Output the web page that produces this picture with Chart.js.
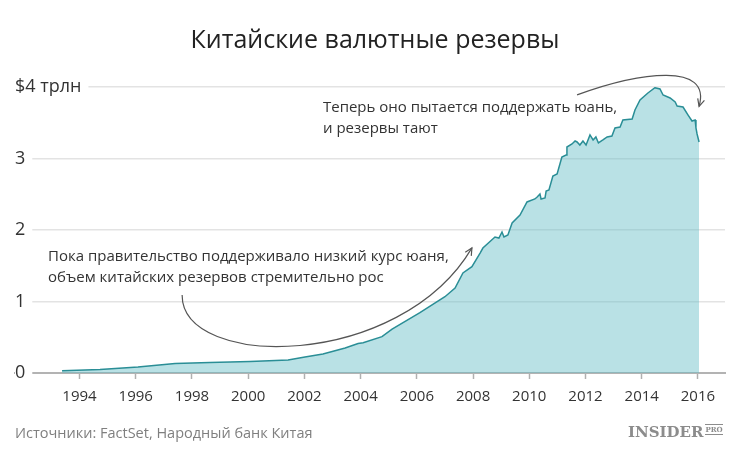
<!DOCTYPE html>
<html lang="ru">
<head>
<meta charset="utf-8">
<title>Китайские валютные резервы</title>
<script src="https://cdn.jsdelivr.net/npm/chart.js@4.4.1/dist/chart.umd.min.js"></script>
<style>
    html, body { margin: 0; padding: 0; background: #fff; }
    #wrap { position: relative; width: 750px; height: 449px; overflow: hidden; font-family: "Open Sans", sans-serif; }
    #chart { position: absolute; left: 0; top: 0; }
    #title { position: absolute; left: 0; width: 750px; top: 21px; text-align: center; font-size: 25px; color: #222; }
    #source { position: absolute; left: 15px; top: 423px; font-size: 14.5px; color: #7f7f7f; }
    #logo { position: absolute; left: 628px; top: 423px; font-family: "DejaVu Serif", "Liberation Serif", serif; font-weight: bold; font-size: 15px; color: #8c8c8c; }
    #logo span { font-size: 7px; border-top: 1px solid #8c8c8c; border-bottom: 1px solid #8c8c8c; vertical-align: 5px; margin-left: 2px; line-height: 8px; }
</style>
</head>
<body>
<div id="wrap">
    <canvas id="chart" width="750" height="449"></canvas>
    <div id="title">Китайские валютные резервы</div>
    <div id="source">Источники: FactSet, Народный банк Китая</div>
    <div id="logo">INSIDER<span>PRO</span></div>
</div>
<script>
// Chinese FX reserves, $ trillion
const years = [
    1993.38, 1994.73, 1996.08, 1997.40, 1998.64, 2000.07, 2001.42, 2002.02, 2002.66, 2003.45,
    2003.91, 2004.09, 2004.76, 2005.12, 2006.11, 2007.00, 2007.36, 2007.64, 2007.96, 2008.25,
    2008.35, 2008.78, 2008.92, 2009.03, 2009.10, 2009.24, 2009.39, 2009.67, 2009.92, 2010.20,
    2010.28, 2010.38, 2010.42, 2010.56, 2010.60, 2010.70, 2010.84, 2010.99, 2011.16, 2011.31,
    2011.34, 2011.52, 2011.63, 2011.70, 2011.80, 2011.91, 2012.02, 2012.16, 2012.27, 2012.37,
    2012.46, 2012.62, 2012.77, 2012.94, 2013.05, 2013.23, 2013.33, 2013.66, 2013.76, 2013.94,
    2014.22, 2014.47, 2014.65, 2014.76, 2015.01, 2015.19, 2015.26, 2015.47, 2015.65, 2015.79,
    2015.90, 2015.93, 2015.97, 2016.04
];
const reserves = [
    0.032, 0.049, 0.084, 0.133, 0.147, 0.161, 0.182, 0.224, 0.266, 0.350,
    0.413, 0.424, 0.508, 0.615, 0.843, 1.067, 1.189, 1.399, 1.487, 1.678,
    1.748, 1.902, 1.888, 1.972, 1.902, 1.930, 2.098, 2.210, 2.392, 2.434,
    2.462, 2.503, 2.434, 2.448, 2.545, 2.559, 2.755, 2.783, 3.021, 3.049,
    3.161, 3.203, 3.245, 3.231, 3.189, 3.245, 3.189, 3.329, 3.259, 3.301,
    3.217, 3.259, 3.301, 3.315, 3.427, 3.441, 3.538, 3.552, 3.678, 3.818,
    3.916, 3.990, 3.972, 3.888, 3.846, 3.790, 3.734, 3.720, 3.608, 3.524,
    3.538, 3.427, 3.343, 3.231
];
const xTicks = [1994, 1996, 1998, 2000, 2002, 2004, 2006, 2008, 2010, 2012, 2014, 2016];
const yTicks = [0, 1, 2, 3, 4];

const noteRise = ['Пока правительство поддерживало низкий курс юаня,', 'объем китайских резервов стремительно рос'];
const noteFall = ['Теперь оно пытается поддержать юань,', 'и резервы тают'];

// annotations in data space: text anchor and bezier arrow [start, c1, c2, end]
const notes = [
    { lines: noteRise, at: [1992.88, 1.62], arrow: [[1997.65, 1.09], [1997.65, 0.04], [2005.40, 0.04], [2007.96, 1.75]] },
    { lines: noteFall, at: [2002.66, 3.71], arrow: [[2011.70, 3.89], [2013.94, 4.21], [2016.50, 4.35], [2016.04, 3.73]] }
];

const annotations = {
    id: 'annotations',
    afterDatasetsDraw(chart) {
        const ctx = chart.ctx;
        const xs = chart.scales.x, ys = chart.scales.y;
        const px = p => [xs.getPixelForValue(p[0]), ys.getPixelForValue(p[1])];
        ctx.save();
        notes.forEach(n => {
            const [tx, ty] = px(n.at);
            ctx.fillStyle = '#333';
            ctx.font = '15px "Open Sans", sans-serif';
            ctx.textBaseline = 'middle';
            ctx.textAlign = 'left';
            n.lines.forEach((l, i) => ctx.fillText(l, tx, ty + i * 20.5));

            const pts = n.arrow.map(px);
            ctx.strokeStyle = '#555';
            ctx.lineWidth = 1.2;
            ctx.beginPath();
            ctx.moveTo(pts[0][0], pts[0][1]);
            ctx.bezierCurveTo(pts[1][0], pts[1][1], pts[2][0], pts[2][1], pts[3][0], pts[3][1]);
            ctx.stroke();
            // arrowhead along the last tangent
            const ang = Math.atan2(pts[3][1] - pts[2][1], pts[3][0] - pts[2][0]);
            const len = 8;
            ctx.beginPath();
            ctx.moveTo(pts[3][0] - len * Math.cos(ang - 0.45), pts[3][1] - len * Math.sin(ang - 0.45));
            ctx.lineTo(pts[3][0], pts[3][1]);
            ctx.lineTo(pts[3][0] - len * Math.cos(ang + 0.45), pts[3][1] - len * Math.sin(ang + 0.45));
            ctx.stroke();
        });
        ctx.restore();
    }
};

new Chart(document.getElementById('chart').getContext('2d'), {
    type: 'line',
    data: {
        datasets: [{
            data: years.map((y, i) => ({ x: y, y: reserves[i] })),
            borderColor: '#2a8e96',
            borderWidth: 1.5,
            backgroundColor: 'rgba(99, 188, 197, 0.45)',
            fill: 'origin',
            pointRadius: 0,
            tension: 0
        }]
    },
    options: {
        responsive: false,
        animation: false,
        layout: { padding: { left: 15, right: 25, top: 87, bottom: 34 } },
        plugins: {
            legend: { display: false },
            title: { display: false },
            tooltip: { enabled: false }
        },
        scales: {
            x: {
                type: 'linear',
                min: 1991.705,
                max: 2016.963,
                afterBuildTicks: scale => { scale.ticks = xTicks.map(v => ({ value: v })); },
                grid: { drawOnChartArea: false, drawTicks: true, tickLength: 6, tickColor: '#b0b0b0', tickWidth: 1.5 },
                border: { color: '#b3b3b3', width: 2 },
                ticks: {
                    autoSkip: false,
                    maxRotation: 0,
                    padding: 9,
                    color: '#333',
                    font: { family: '"Open Sans", sans-serif', size: 15 },
                    callback: v => String(v)
                }
            },
            y: {
                min: 0,
                max: 4,
                afterBuildTicks: scale => { scale.ticks = yTicks.map(v => ({ value: v })); },
                grid: { color: '#e3e3e3', lineWidth: 1.5, drawTicks: false },
                border: { display: false },
                ticks: {
                    mirror: true,
                    padding: 0,
                    z: 1,
                    color: '#333',
                    font: { family: '"Open Sans", sans-serif', size: 18 },
                    showLabelBackdrop: true,
                    backdropColor: '#ffffff',
                    backdropPadding: { left: 0, right: 7, top: 3, bottom: 3 },
                    callback: v => v === 4 ? '$4 трлн' : String(v)
                }
            }
        }
    },
    plugins: [annotations]
});
</script>
</body>
</html>
